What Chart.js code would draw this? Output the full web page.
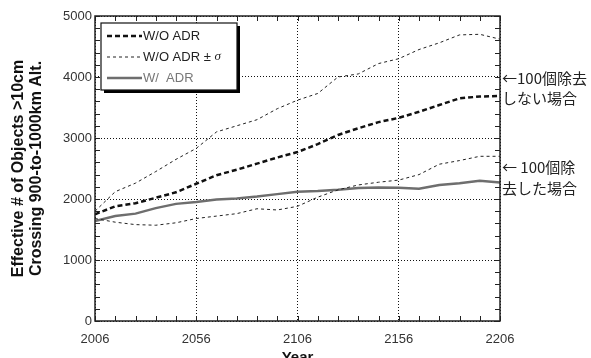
<!DOCTYPE html>
<html lang="ja">
<head>
<meta charset="UTF-8">
<title>Effective # of Objects</title>
<script src="https://cdn.jsdelivr.net/npm/chart.js"></script>
<style>
  html, body { margin: 0; padding: 0; background: #fff; overflow: hidden; }
  #wrap { position: relative; width: 591px; height: 372px; }
</style>
</head>
<body>
<div id="wrap"><canvas id="debrisChart" width="591" height="372"></canvas></div>
<script>
// values, every 10 years
const years = [2006, 2016, 2026, 2036, 2046, 2056, 2066, 2076, 2086, 2096, 2106,
               2116, 2126, 2136, 2146, 2156, 2166, 2176, 2186, 2196, 2206];
const woAdr      = [1750, 1880, 1930, 2020, 2110, 2250, 2390, 2480, 2580, 2680, 2770,
                    2900, 3050, 3160, 3260, 3330, 3430, 3540, 3650, 3680, 3690];
const woAdrPlus  = [1800, 2120, 2260, 2450, 2650, 2830, 3100, 3200, 3300, 3480, 3620,
                    3730, 4000, 4050, 4220, 4300, 4450, 4560, 4690, 4700, 4620];
const woAdrMinus = [1680, 1620, 1580, 1570, 1610, 1680, 1720, 1760, 1840, 1820, 1880,
                    2030, 2150, 2230, 2275, 2310, 2400, 2570, 2630, 2700, 2700];
const wAdr       = [1640, 1720, 1760, 1850, 1920, 1950, 1990, 2010, 2040, 2080, 2120,
                    2130, 2150, 2180, 2190, 2185, 2170, 2230, 2260, 2300, 2270];

const legendLabels = ['W/O ADR', 'W/O ADR \u00b1 ', 'W/  ADR'];
const notes = ['\u2190100個除去', 'しない場合', '\u2190 100個除', '去した場合'];

const toPoints = vals => vals.map((v, i) => ({ x: years[i], y: v }));

// frame, inward minor ticks, legend box and the notes on the right
const extras = {
  id: 'extras',
  afterDatasetsDraw(chart) {
    const { ctx, chartArea: a, scales: { x, y } } = chart;
    ctx.save();
    ctx.strokeStyle = '#222';
    ctx.lineWidth = 1;
    ctx.beginPath();
    for (let yr = 2006; yr <= 2206; yr += 10) {
      const px = Math.round(x.getPixelForValue(yr)) + 0.5;
      ctx.moveTo(px, a.bottom); ctx.lineTo(px, a.bottom - 5);
      ctx.moveTo(px, a.top); ctx.lineTo(px, a.top + 5);
    }
    for (let v = 0; v <= 5000; v += 200) {
      const py = Math.round(y.getPixelForValue(v)) + 0.5;
      ctx.moveTo(a.left, py); ctx.lineTo(a.left + 5, py);
      ctx.moveTo(a.right, py); ctx.lineTo(a.right - 5, py);
    }
    ctx.stroke();
    ctx.lineWidth = 1.5;
    ctx.strokeRect(a.left, a.top, a.right - a.left, a.bottom - a.top);

    // legend
    const bx = 101, by = 23, bw = 136, bh = 67;
    ctx.fillStyle = '#000';
    ctx.fillRect(bx + 3, by + 3, bw, bh);
    ctx.fillStyle = '#fff';
    ctx.fillRect(bx, by, bw, bh);
    ctx.lineWidth = 1.2;
    ctx.strokeStyle = '#111';
    ctx.strokeRect(bx, by, bw, bh);

    const rows = [36, 57, 78];
    const ds = chart.data.datasets;
    const styles = [ds[0], ds[1], ds[3]];
    ctx.font = '13px "Liberation Sans", Arial, sans-serif';
    ctx.textBaseline = 'middle';
    rows.forEach((ry, i) => {
      const s = styles[i];
      ctx.beginPath();
      ctx.strokeStyle = s.borderColor;
      ctx.lineWidth = s.borderWidth;
      ctx.setLineDash(s.borderDash || []);
      ctx.moveTo(107, ry); ctx.lineTo(142, ry);
      ctx.stroke();
      ctx.setLineDash([]);
      ctx.fillStyle = i === 2 ? '#777' : '#222';
      ctx.textAlign = 'left';
      ctx.fillText(legendLabels[i], 143, ry);
      if (i === 1) {
        const w = ctx.measureText(legendLabels[i]).width;
        ctx.font = 'italic 13px "Liberation Serif", "Times New Roman", serif';
        ctx.fillText('\u03c3', 143 + w, ry);
        ctx.font = '13px "Liberation Sans", Arial, sans-serif';
      }
    });

    // notes on the right
    ctx.fillStyle = '#222';
    ctx.font = '15px "Noto Sans CJK JP", sans-serif';
    ctx.textAlign = 'left';
    const noteY = [78, 98, 167, 188];
    notes.forEach((t, i) => ctx.fillText(t, a.right + 2, noteY[i]));
    ctx.restore();
  }
};

const tickFont = { family: '"Liberation Sans", Arial, sans-serif', size: 13 };

new Chart(document.getElementById('debrisChart'), {
  type: 'line',
  data: {
    datasets: [
      {
        label: 'W/O ADR',
        data: toPoints(woAdr),
        borderColor: '#111',
        borderWidth: 2.5,
        borderDash: [5, 3]
      },
      {
        label: 'W/O ADR + sigma',
        data: toPoints(woAdrPlus),
        borderColor: '#222',
        borderWidth: 1,
        borderDash: [3, 3]
      },
      {
        label: 'W/O ADR - sigma',
        data: toPoints(woAdrMinus),
        borderColor: '#222',
        borderWidth: 1,
        borderDash: [3, 3]
      },
      {
        label: 'W/ ADR',
        data: toPoints(wAdr),
        borderColor: '#6e6e6e',
        borderWidth: 2.5
      }
    ]
  },
  options: {
    responsive: false,
    animation: false,
    layout: { padding: { left: 0, top: 16, right: 91, bottom: 0 } },
    elements: { point: { radius: 0 }, line: { tension: 0, fill: false } },
    plugins: { legend: { display: false }, tooltip: { enabled: false } },
    scales: {
      x: {
        type: 'linear',
        min: 2006,
        max: 2206,
        afterFit: s => { s.height = 51; },
        ticks: { stepSize: 50, color: '#333', font: tickFont, padding: 11, maxRotation: 0,
                 callback: v => String(v) },
        grid: { color: '#111', lineWidth: 1, drawTicks: false },
        border: { display: false, dash: [1, 2] },
        title: {
          display: true,
          text: 'Year',
          color: '#111',
          font: { family: '"Liberation Sans", Arial, sans-serif', size: 15, weight: 'bold' },
          padding: { top: 0, bottom: 5 }
        }
      },
      y: {
        min: 0,
        max: 5000,
        afterFit: s => { s.width = 95; },
        ticks: { stepSize: 1000, color: '#333', font: tickFont, padding: 3,
                 callback: v => String(v) },
        grid: { color: '#111', lineWidth: 1, drawTicks: false },
        border: { display: false, dash: [1, 2] },
        title: {
          display: true,
          text: ['Effective # of Objects >10cm', 'Crossing 900-to-1000km Alt.'],
          color: '#111',
          font: { family: '"Liberation Sans", Arial, sans-serif', size: 16, weight: 'bold', lineHeight: 1.125 },
          padding: { top: 10, bottom: 0 }
        }
      }
    }
  },
  plugins: [extras]
});
</script>
</body>
</html>
